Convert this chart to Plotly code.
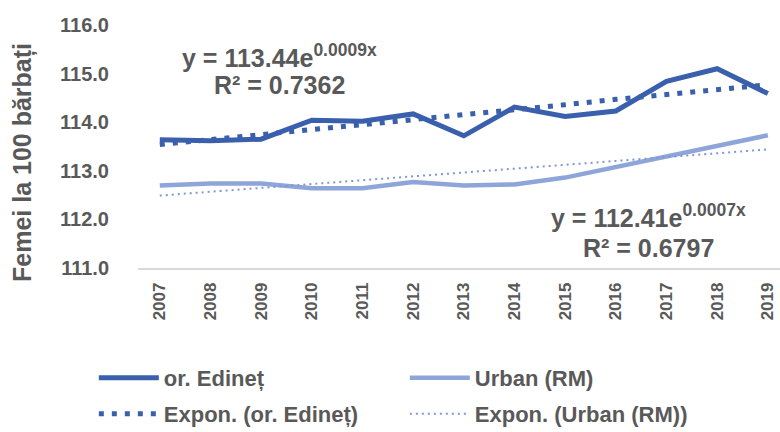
import plotly.graph_objects as go

years = ["2007", "2008", "2009", "2010", "2011", "2012", "2013",
         "2014", "2015", "2016", "2017", "2018", "2019"]
edinet = [113.64, 113.62, 113.65, 114.04, 114.02, 114.17, 113.72,
          114.31, 114.12, 114.23, 114.84, 115.10, 114.59]
urban = [112.70, 112.74, 112.74, 112.64, 112.64, 112.77, 112.70,
         112.72, 112.86, 113.08, 113.30, 113.52, 113.73]
# exponential trend values as shown (Excel trendlines)
edinet_trend = [113.54, 113.64, 113.75, 113.85, 113.95, 114.05, 114.16,
                114.26, 114.36, 114.47, 114.57, 114.67, 114.77]
urban_trend = [112.49, 112.57, 112.65, 112.73, 112.81, 112.88, 112.96,
               113.04, 113.12, 113.20, 113.28, 113.36, 113.44]

GRAY = "#595959"
BLUE = "#3a60ad"
LIGHT = "#8ea5d9"
FONT = "Liberation Sans"


def bold(size):
    return {"family": FONT, "size": size, "color": GRAY, "weight": "bold"}


fig = go.Figure()
fig.add_trace(go.Scatter(x=years, y=edinet, name="or. Edineț", mode="lines",
                         line={"color": BLUE, "width": 5}, legend="legend"))
fig.add_trace(go.Scatter(x=years, y=urban, name="Urban (RM)", mode="lines",
                         line={"color": LIGHT, "width": 4.5}, legend="legend"))
fig.add_trace(go.Scatter(x=years, y=edinet_trend, name="Expon. (or. Edineț)", mode="lines",
                         line={"color": BLUE, "width": 5, "dash": "5px,8px"}, legend="legend2"))
fig.add_trace(go.Scatter(x=years, y=urban_trend, name="Expon. (Urban (RM))", mode="lines",
                         line={"color": "#7f97d5", "width": 2, "dash": "2px,4px"}, legend="legend2"))

for x, y, text in (
    (2.37, 115.36, "y = 113.44e<sup>0.0009x</sup>"),
    (2.37, 114.76, "R² = 0.7362"),
    (9.65, 112.06, "y = 112.41e<sup>0.0007x</sup>"),
    (9.65, 111.42, "R² = 0.6797"),
):
    fig.add_annotation(x=x, y=y, xref="x", yref="y", text=text, showarrow=False,
                       font=bold(25), xanchor="center", yanchor="middle")

fig.add_annotation(x=-0.18, y=0.434, xref="paper", yref="paper", text="Femei la 100 bărbați",
                   textangle=-90, showarrow=False, font=bold(25),
                   xanchor="center", yanchor="middle")

fig.update_xaxes(type="category", range=[-0.43, 12.24], showline=True, linecolor="#d9d9d9",
                 linewidth=1.5, showgrid=False, zeroline=False, tickangle=-90,
                 ticklabelstandoff=6, automargin=False, tickfont=bold(17))
fig.update_yaxes(range=[111, 116], dtick=1, tickformat=".1f", showgrid=False, zeroline=False,
                 showline=False, ticklabelstandoff=28, automargin=False, tickfont=bold(20))

legend_common = {"orientation": "h", "xref": "container", "yref": "container",
                 "x": 0.1203, "xanchor": "left", "yanchor": "middle",
                 "entrywidth": 236, "entrywidthmode": "pixels", "itemwidth": 60,
                 "font": bold(22), "bgcolor": "rgba(0,0,0,0)"}
fig.update_layout(
    width=780, height=432, plot_bgcolor="white", paper_bgcolor="white",
    margin={"l": 138, "r": 0, "t": 25, "b": 164, "autoexpand": False},
    legend={**legend_common, "y": 1 - 378 / 432},
    legend2={**legend_common, "y": 1 - 414 / 432},
)
# the page body has a default 8px margin; drop it so the figure fills the window
fig.write_html("out.html", config={"displayModeBar": False},
               post_script="document.body.style.margin='0';")
